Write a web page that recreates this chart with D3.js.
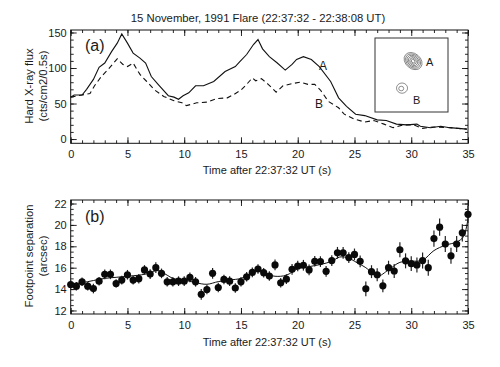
<!DOCTYPE html>
<html><head><meta charset="utf-8">
<script src="https://cdn.jsdelivr.net/npm/d3@7/dist/d3.min.js"></script>
<style>
html,body{margin:0;padding:0;background:#fff;}
svg{display:block;}
text{font-family:"Liberation Sans",Arial,Helvetica,sans-serif;fill:#1a1a1a;}
</style></head>
<body>
<svg id="chart" width="500" height="367"></svg>
<script>
// ---------- Data ----------
const title = "15 November, 1991 Flare (22:37:32 - 22:38:08 UT)";
const xTitle = "Time after 22:37:32 UT (s)";
const yTitleA = ["Hard X-ray flux", "(cts/cm2/0.5s)"];
const yTitleB = ["Footpoint separation", "(arcsec)"];
const xTicks = [0,5,10,15,20,25,30,35];
const yTicksA = [0,50,100,150];
const yTicksB = [12,14,16,18,20,22];

// Panel (a): hard X-ray flux of footpoints A (solid) and B (dashed)
const timeA = [0,0.3,1,1.4,2,2.5,3,3.6,4.1,4.5,5,5.5,6.1,6.6,7.1,7.7,8.6,9.1,9.5,9.9,10.4,11,11.7,12.6,13.6,14.5,14.9,15.5,16.1,16.5,16.9,17.5,18.2,18.9,19.5,19.9,20.5,21.2,21.9,22.9,23.6,24.3,25.1,25.9,27,27.8,28.7,29.6,30.5,30.8,31.7,32.6,33.4,34.9];
const fluxA = [59,62,62,70,84,101,107,123,135,148,135,121,114,107,88,77,61,59,56,61,65,75,75,81,95,102,109,119,133,140,127,116,107,97,105,112,116,112,102,81,58,46,35,33,27,26,21,20,21,18,16,18,16,14];
const timeB = [0,1,1.7,2.1,2.7,3.3,4.1,4.6,5,5.5,6.1,6.7,7.4,8.2,9.1,9.8,10.2,11.1,12,12.9,13.8,14.4,15,15.5,16,16.3,16.8,17.4,18.1,18.7,19.5,20.2,20.9,21.5,22,22.7,23.6,24.1,25,25.9,26.7,27.6,28.4,29.3,30.2,31,31.9,33.4,34.9];
const fluxB = [59,62,64,75,88,98,113,105,102,107,91,81,69,60,54,51,47,51,52,57,58,63,69,77,86,82,85,77,66,75,78,80,77,77,69,53,44,35,28,24,26,21,16,20,20,15,17,16,14];

// Panel (b): footpoint separation, 0.5 s cadence
const sepTime = [0,0.5,1,1.5,2,2.5,3,3.5,4,4.5,5,5.5,6,6.5,7,7.5,8,8.5,9,9.5,10,10.5,11,11.5,12,12.5,13,13.5,14,14.5,15,15.5,16,16.5,17,17.5,18,18.5,19,19.5,20,20.5,21,21.5,22,22.5,23,23.5,24,24.5,25,25.5,26,26.5,27,27.5,28,28.5,29,29.5,30,30.5,31,31.5,32,32.5,33,33.5,34,34.5,35];
const sepVal = [14.43,14.27,14.68,14.27,14.05,14.74,15.38,15.38,14.52,14.84,15.34,14.84,14.97,15.79,15.4,16.0,15.47,14.68,14.68,14.74,14.74,15.09,14.68,13.51,13.96,15.47,14.15,14.9,14.74,14.1,14.68,15.15,15.56,15.88,15.53,15.22,16.26,14.59,14.93,15.85,16.16,16.23,15.79,16.6,16.57,15.66,16.67,17.39,17.39,16.95,17.24,16.6,14.02,15.63,15.34,14.3,16.0,15.69,17.68,16.64,16.38,16.26,16.67,16.0,18.72,19.79,18.21,17.11,18.21,19.26,20.99];
const sepErr = [0.4,0.4,0.4,0.4,0.45,0.4,0.45,0.45,0.4,0.4,0.45,0.4,0.45,0.45,0.45,0.5,0.45,0.45,0.45,0.45,0.45,0.45,0.45,0.5,0.45,0.5,0.45,0.45,0.45,0.45,0.45,0.45,0.45,0.45,0.45,0.45,0.5,0.45,0.45,0.5,0.5,0.5,0.5,0.5,0.5,0.5,0.5,0.55,0.55,0.5,0.55,0.55,0.7,0.6,0.6,0.6,0.65,0.65,0.7,0.7,0.7,0.7,0.75,0.75,0.75,0.8,0.75,0.75,0.75,0.8,0.8];
const fitTime = [0,1,2,3,4,5,6,7,7.6,8.5,9,10,11,12,13,14,15,16,16.5,17,18,19,20,21,22,23,23.7,24.5,25,26,27,28,29,30,31,32,33,34,34.6,35];
const fitVal = [14.5,14.6,14.8,15.0,15.1,15.2,15.3,15.5,15.75,15.3,15.0,14.85,14.6,14.45,14.7,14.85,15.0,15.5,15.8,15.5,15.2,15.3,15.9,16.1,16.3,16.6,17.0,16.9,16.6,16.0,15.2,15.8,16.5,16.6,16.7,17.6,18.1,18.4,18.9,20.6];

// Inset: source map (arcsec), A and B footpoints with contour levels
const srcNames = ["A","B"];
const srcX = [19.3, 13.7];
const srcY = [11.7, 25.4];
const srcRx = [5.0, 2.8];
const srcRy = [3.8, 2.6];
const srcLevels = [[1,0.84,0.68,0.52,0.36,0.2],[1,0.45]];

// ---------- Drawing ----------
const svg = d3.select("#chart");
const X0 = 70.7, X1 = 468;
const x = d3.scaleLinear().domain([0,35]).range([X0,X1]);
const yA = d3.scaleLinear().domain([-6,153.5]).range([143.3,30]);
const yB = d3.scaleLinear().domain([11.67,22.33]).range([314,200]);

const FS = 11;

function frame(y, yMajor, yMinorStep, fmt){
  const [top, bottom] = [y.range()[1], y.range()[0]];
  const g = svg.append("g");
  const minorX = d3.range(0,35.001,1);
  const yd = y.domain();
  const minorY = d3.range(Math.ceil(yd[0]/yMinorStep)*yMinorStep, yd[1]+1e-9, yMinorStep);
  const style = s => s.call(a=>a.select(".domain").remove())
     .call(a=>a.selectAll("line").attr("stroke","#111").attr("stroke-width",0.9))
     .call(a=>a.selectAll("text").attr("font-size",FS).attr("fill","#1a1a1a")
           .attr("font-family","Liberation Sans, Arial, sans-serif"));
  // bottom
  g.append("g").attr("transform",`translate(0,${bottom})`)
    .call(d3.axisBottom(x).tickValues(xTicks).tickSize(-6).tickPadding(7)).call(style);
  g.append("g").attr("transform",`translate(0,${bottom})`)
    .call(d3.axisBottom(x).tickValues(minorX).tickSize(-3).tickFormat("")).call(style);
  // top
  g.append("g").attr("transform",`translate(0,${top})`)
    .call(d3.axisTop(x).tickValues(xTicks).tickSize(-6).tickFormat("")).call(style);
  g.append("g").attr("transform",`translate(0,${top})`)
    .call(d3.axisTop(x).tickValues(minorX).tickSize(-3).tickFormat("")).call(style);
  // left
  g.append("g").attr("transform",`translate(${X0},0)`)
    .call(d3.axisLeft(y).tickValues(yMajor).tickSize(-6).tickPadding(4).tickFormat(fmt)).call(style);
  g.append("g").attr("transform",`translate(${X0},0)`)
    .call(d3.axisLeft(y).tickValues(minorY).tickSize(-3).tickFormat("")).call(style);
  // right
  g.append("g").attr("transform",`translate(${X1},0)`)
    .call(d3.axisRight(y).tickValues(yMajor).tickSize(-6).tickFormat("")).call(style);
  g.append("g").attr("transform",`translate(${X1},0)`)
    .call(d3.axisRight(y).tickValues(minorY).tickSize(-3).tickFormat("")).call(style);
  g.append("rect").attr("x",X0).attr("y",top).attr("width",X1-X0).attr("height",bottom-top)
    .attr("fill","none").attr("stroke","#111").attr("stroke-width",1);
}

// title
svg.append("text").attr("x",258).attr("y",22).attr("text-anchor","middle")
  .attr("font-size",11.3).text(title);

// ----- Panel (a)
frame(yA, yTicksA, 10, d3.format("d"));
const lineA = d3.line().x(d=>x(d[0])).y(d=>yA(d[1]));
svg.append("path").datum(timeA.map((t,i)=>[t,fluxA[i]]))
  .attr("d",lineA).attr("fill","none").attr("stroke","#111").attr("stroke-width",1.1);
svg.append("path").datum(timeB.map((t,i)=>[t,fluxB[i]]))
  .attr("d",lineA).attr("fill","none").attr("stroke","#111").attr("stroke-width",1.1)
  .attr("stroke-dasharray","5,3.5");
svg.append("text").attr("x",85).attr("y",51).attr("font-size",16).text("(a)");
svg.append("text").attr("x",319).attr("y",69.5).attr("font-size",12).text("A");
svg.append("text").attr("x",315).attr("y",107.5).attr("font-size",12).text("B");

// inset
const ix = d3.scaleLinear().domain([0,37]).range([375,448]);
const iy = d3.scaleLinear().domain([0,37.5]).range([38,112]);
svg.append("rect").attr("x",ix(0)).attr("y",iy(0)).attr("width",ix(37)-ix(0)).attr("height",iy(37.5)-iy(0))
  .attr("fill","#fff").attr("stroke","#333").attr("stroke-width",1);
const k = (ix(1)-ix(0));
srcNames.forEach((n,i)=>{
  const g = svg.append("g").attr("transform",`translate(${ix(srcX[i])},${iy(srcY[i])}) rotate(${i===0?40:0})`);
  g.selectAll("ellipse").data(srcLevels[i]).join("ellipse")
    .attr("cx",(d,j)=> i===1 && j>0 ? -0.8 : 0).attr("cy",(d,j)=> i===1 && j>0 ? 0.4 : 0)
    .attr("rx",d=>srcRx[i]*k*d).attr("ry",d=>srcRy[i]*k*d)
    .attr("fill","none").attr("stroke","#444").attr("stroke-width",0.6);
});
svg.append("text").attr("x",426).attr("y",65.5).attr("font-size",11).text("A");
svg.append("text").attr("x",413).attr("y",103.5).attr("font-size",11).text("B");

// x title a
svg.append("text").attr("x",267).attr("y",174).attr("text-anchor","middle").attr("font-size",11).text(xTitle);
// y title a
[29,43].forEach((xx,i)=>{
  svg.append("text").attr("transform",`translate(${xx+4},86) rotate(-90)`).attr("text-anchor","middle")
    .attr("font-size",11.3).text(yTitleA[i]);
});

// ----- Panel (b)
frame(yB, yTicksB, 0.5, d3.format("d"));
const fitLine = d3.line().x(d=>x(d[0])).y(d=>yB(d[1])).curve(d3.curveCatmullRom.alpha(0.5));
svg.append("path").datum(fitTime.map((t,i)=>[t,fitVal[i]]))
  .attr("d",fitLine).attr("fill","none").attr("stroke","#111").attr("stroke-width",1);
const pts = sepTime.map((t,i)=>({t, v:sepVal[i], e:sepErr[i]}));
svg.append("g").selectAll("line").data(pts).join("line")
  .attr("x1",d=>x(d.t)).attr("x2",d=>x(d.t))
  .attr("y1",d=>yB(d.v-d.e)).attr("y2",d=>yB(d.v+d.e))
  .attr("stroke","#222").attr("stroke-width",1.2);
svg.append("g").selectAll("circle").data(pts).join("circle")
  .attr("cx",d=>x(d.t)).attr("cy",d=>yB(d.v)).attr("r",3.6).attr("fill","#0a0a0a");
svg.append("text").attr("x",85).attr("y",222).attr("font-size",16).text("(b)");
svg.append("text").attr("x",267).attr("y",346).attr("text-anchor","middle").attr("font-size",11).text(xTitle);
[29,43].forEach((xx,i)=>{
  svg.append("text").attr("transform",`translate(${xx+4},256) rotate(-90)`).attr("text-anchor","middle")
    .attr("font-size",11.3).text(yTitleB[i]);
});
</script>
</body></html>
